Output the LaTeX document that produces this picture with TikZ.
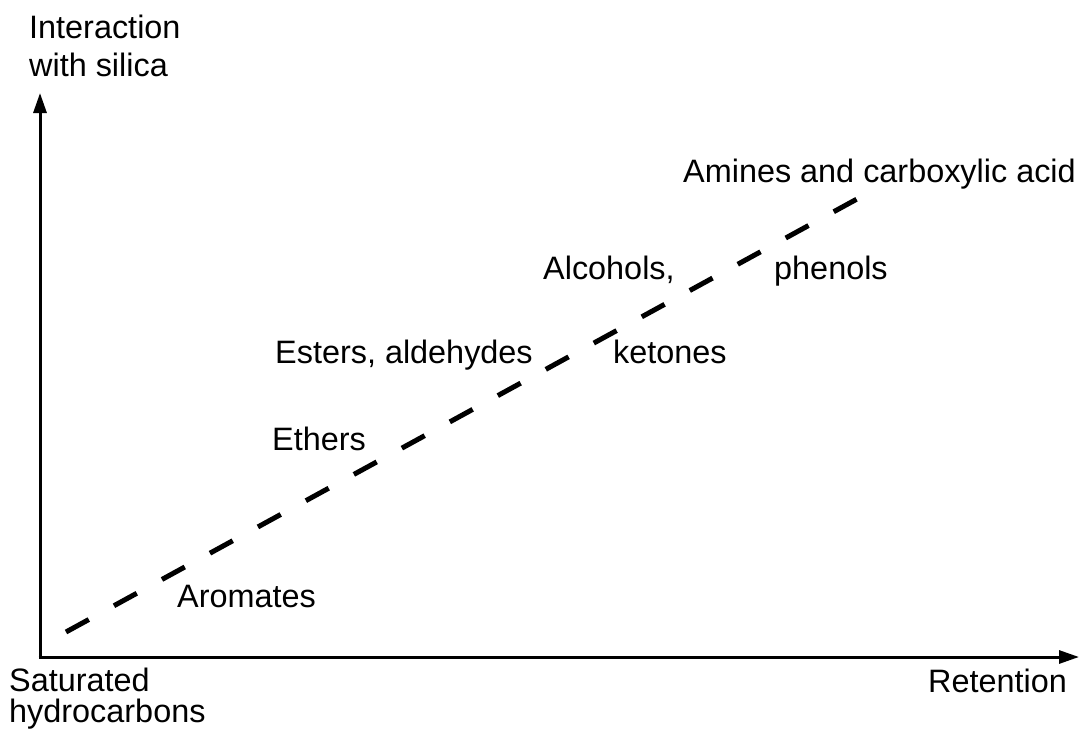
\documentclass[tikz,border=0pt]{standalone}
\usepackage{fontspec}
\setmainfont{Liberation Sans}
\usetikzlibrary{arrows.meta,positioning}

\begin{document}
\begin{tikzpicture}[x=1pt,y=-1pt,
  lbl/.style={anchor=base west,inner sep=0pt,font=\fontsize{32.4}{38}\selectfont},
  axis/.style={line width=3pt,-{Triangle[length=20pt,width=13pt]}}]

\useasboundingbox (0,0) rectangle (1079,731);

\coordinate (o) at (40,657);
\coordinate (ytop) at (40,93);
\coordinate (xend) at (1079,657);

\draw[axis] (o)--(ytop);
\draw[axis] ([xshift=-1.5pt]o)--(xend);

\coordinate (lstart) at (66,632);
\coordinate (lend) at (857,199);
\draw[line width=5pt,dash pattern=on 26pt off 28.7pt] (lstart)--(lend);

\node[lbl] (int) at (29,38) {Interaction};
\node[lbl] (sil) at (29,76) {with silica};
\node[lbl] (sat) at (9,691) {Saturated};
\node[lbl] (hyd) at (9,722) {hydrocarbons};
\node[lbl] (ret) at (928,692) {Retention};

\node[lbl] (arom) at (177,607) {Aromates};
\node[lbl] (eth) at (272,450) {Ethers};
\node[lbl] (est) at (275,363) {Esters, aldehydes};
\node[lbl] (ket) at (613,363) {ketones};
\node[lbl] (alc) at (543,279) {Alcohols,};
\node[lbl] (phe) at (774,279) {phenols};
\node[lbl] (ami) at (683,182) {Amines and carboxylic acid};
\end{tikzpicture}
\end{document}
